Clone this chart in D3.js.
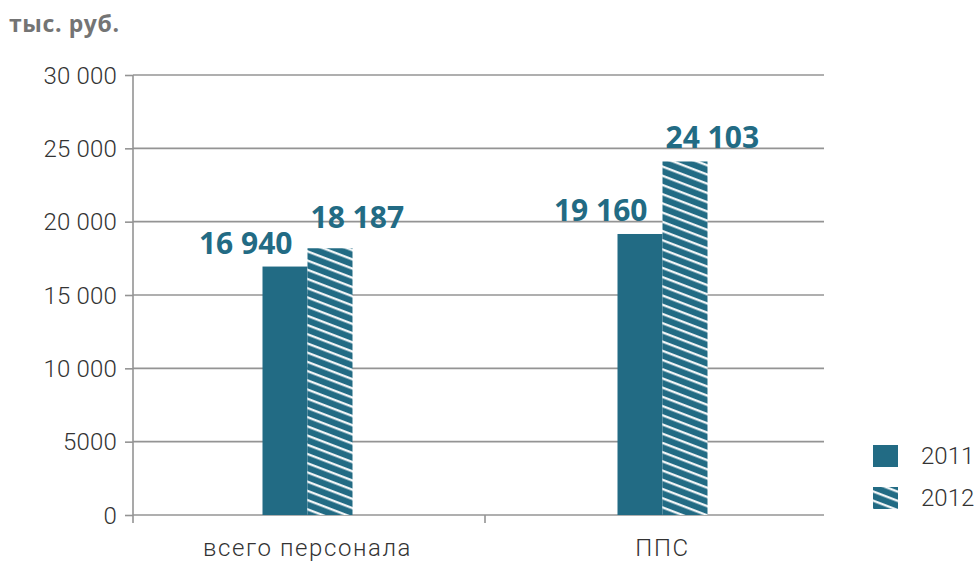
<!DOCTYPE html>
<html>
<head>
<meta charset="utf-8">
<script src="https://cdn.jsdelivr.net/npm/d3@7/dist/d3.min.js"></script>
<style>
  html, body { margin: 0; padding: 0; background: #fff; }
  svg { display: block; }
  .tick text { font-family: Roboto, "Liberation Sans", sans-serif; font-weight: 300; }
</style>
</head>
<body>
<svg id="chart" width="975" height="561"></svg>
<script>
// Average salary, thousand rubles
const categories = ["всего персонала", "ППС"];
const years = ["2011", "2012"];
const values2011 = [16940, 19160];
const values2012 = [18187, 24103];
const yTickValues = [0, 5000, 10000, 15000, 20000, 25000, 30000];
const yTickLabels = ["0", "5000", "10 000", "15 000", "20 000", "25 000", "30 000"];
const unitLabel = "тыс. руб.";

const series = [
  { year: years[0], values: values2011 },
  { year: years[1], values: values2012 }
];

const teal = "#226b84";
const gridColor = "#949494";
const svg = d3.select("#chart");

// Diagonal stripe fill for the second series
const defs = svg.append("defs");
const pat = defs.append("pattern")
  .attr("id", "hatch")
  .attr("patternUnits", "userSpaceOnUse")
  .attr("width", 12)
  .attr("height", 8.6)
  .attr("patternTransform", "rotate(21)");
pat.append("rect").attr("width", 12).attr("height", 8.6).attr("fill", teal);
pat.append("rect").attr("y", 3).attr("width", 12).attr("height", 2.2).attr("fill", "#fff");

const fills = { "2011": teal, "2012": "url(#hatch)" };

const axisLeftX = 133, plotRight = 824;
const y = d3.scaleLinear().domain([0, 30000]).range([515, 75]);
const x = d3.scaleBand().domain(categories).range([130, 840]).padding(0);
const barW = 45;
const outer = (x.bandwidth() / barW - years.length) / 2;
const xSub = d3.scaleBand().domain(years).range([0, x.bandwidth()])
  .paddingInner(0).paddingOuter(outer);

// Horizontal grid
svg.append("g").selectAll("line")
  .data(yTickValues)
  .join("line")
  .attr("x1", axisLeftX).attr("x2", plotRight)
  .attr("y1", d => y(d)).attr("y2", d => y(d))
  .attr("stroke", gridColor).attr("stroke-width", 1.6);

// Y axis
const yAxis = svg.append("g")
  .attr("transform", `translate(${axisLeftX},0)`)
  .call(d3.axisLeft(y).tickValues(yTickValues)
    .tickFormat((d, i) => yTickLabels[i]).tickSize(8).tickPadding(8));
yAxis.select(".domain").remove();
yAxis.selectAll(".tick line").attr("stroke", gridColor).attr("stroke-width", 1.6);
yAxis.selectAll(".tick text")
  .attr("fill", "#333").attr("font-size", 24).attr("dy", "0.34em")
  .style("letter-spacing", "0.2px");

svg.append("line")
  .attr("x1", axisLeftX).attr("x2", axisLeftX)
  .attr("y1", y(30000)).attr("y2", y(0) + 8)
  .attr("stroke", gridColor).attr("stroke-width", 1.6);

// Category separator ticks on the x axis
svg.append("g").selectAll("line")
  .data(categories.slice(1))
  .join("line")
  .attr("x1", d => x(d)).attr("x2", d => x(d))
  .attr("y1", y(0)).attr("y2", y(0) + 8)
  .attr("stroke", gridColor).attr("stroke-width", 1.6);

// Category labels
svg.append("g").selectAll("text")
  .data(categories)
  .join("text")
  .attr("x", d => x(d) + x.bandwidth() / 2)
  .attr("y", 556)
  .attr("text-anchor", "middle")
  .attr("font-family", "Roboto, 'Liberation Sans', sans-serif")
  .attr("font-weight", 300)
  .attr("font-size", 24)
  .attr("fill", "#333")
  .style("letter-spacing", "1.6px")
  .text(d => d);

// Bars
const groups = svg.append("g").selectAll("g")
  .data(series)
  .join("g");

groups.selectAll("rect")
  .data(s => s.values.map((v, i) => ({ year: s.year, cat: categories[i], v })))
  .join("rect")
  .attr("x", d => x(d.cat) + xSub(d.year))
  .attr("width", xSub.bandwidth())
  .attr("y", d => y(d.v))
  .attr("height", d => y(0) - y(d.v))
  .attr("fill", d => fills[d.year]);

// Value labels
const fmt = v => d3.format(",")(v).replace(/,/g, "\u00a0");
const labelLift = { "всего персонала|2012": 20 };
groups.selectAll("text")
  .data(s => s.values.map((v, i) => ({ year: s.year, cat: categories[i], v })))
  .join("text")
  .attr("x", d => d.year === years[0]
    ? x(d.cat) + xSub(d.year) + xSub.bandwidth() - 15
    : x(d.cat) + xSub(d.year) + 3)
  .attr("y", d => y(d.v) - (labelLift[d.cat + "|" + d.year] || 13))
  .attr("text-anchor", d => d.year === years[0] ? "end" : "start")
  .attr("font-family", "'Open Sans', sans-serif")
  .attr("font-weight", 700)
  .attr("font-size", 30)
  .attr("fill", teal)
  .style("letter-spacing", "0px")
  .text(d => fmt(d.v));

// Unit caption
svg.append("text")
  .attr("x", 9).attr("y", 32)
  .attr("font-family", "'Open Sans', sans-serif")
  .attr("font-weight", 700)
  .attr("font-size", 23)
  .attr("fill", "#747474")
  .style("letter-spacing", "0.6px")
  .text(unitLabel);

// Legend
const legend = svg.append("g").selectAll("g")
  .data(years)
  .join("g")
  .attr("transform", (d, i) => `translate(873,${445 + i * 42})`);
legend.append("rect")
  .attr("width", 25).attr("height", 22)
  .attr("fill", d => fills[d]);
legend.append("text")
  .attr("x", 48).attr("y", 19)
  .attr("font-family", "Roboto, 'Liberation Sans', sans-serif")
  .attr("font-weight", 300)
  .attr("font-size", 24)
  .attr("fill", "#333")
  .text(d => d);
</script>
</body>
</html>
